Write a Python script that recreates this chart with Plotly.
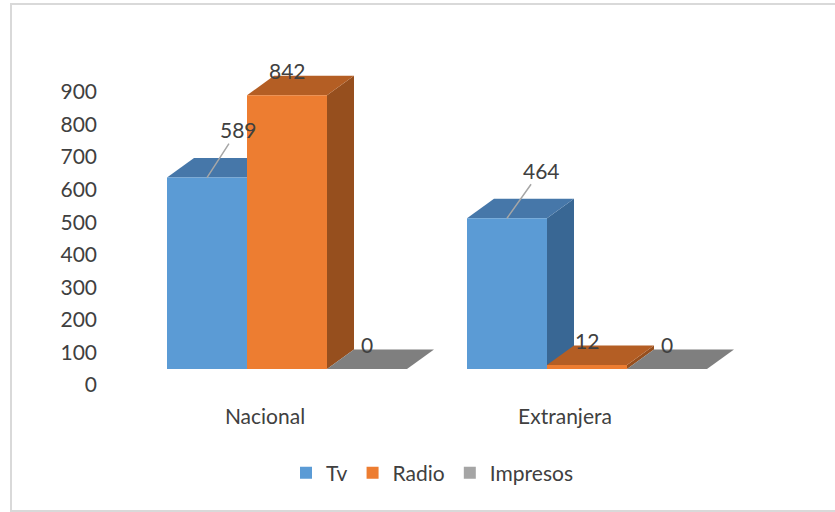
import plotly.graph_objects as go

# datos
categories = ["Nacional", "Extranjera"]
series_names = ["Tv", "Radio", "Impresos"]
tv = [589, 464]
radio = [842, 12]
impresos = [0, 0]
y_ticks = [0, 100, 200, 300, 400, 500, 600, 700, 800, 900]

series_values = [tv, radio, impresos]
front_colors = ["#5B9BD5", "#ED7D31", "#A5A5A5"]
top_colors = ["#4677A9", "#B45E24", "#7F7F7F"]
side_colors = ["#396794", "#964F1E", "#6E6E6E"]

W, H = 835, 512
L, B = 98, 390          # borde izquierdo / inferior del area de trazado (px)
FONT = "Lato, Arial, sans-serif"
TXT = "#404040"

x_pos = list(range(len(categories)))
bar_w = 0.8 / 3
dx, dy = 0.09, 60        # profundidad 3D (unidades de eje)

fig = go.Figure()

for j, (name, vals) in enumerate(zip(series_names, series_values)):
    fig.add_trace(go.Bar(
        x=x_pos, y=vals, name=name,
        marker=dict(color=front_colors[j], line=dict(width=0)),
        hoverinfo="skip",
    ))

# caras superior y lateral
shapes = []
for j, vals in enumerate(series_values):
    for i, v in enumerate(vals):
        c = x_pos[i] + (j - 1) * bar_w
        x0, x1 = c - bar_w / 2, c + bar_w / 2
        side = (f"M{x1},0 L{x1},{v} L{x1+dx},{v+dy} L{x1+dx},{dy} Z")
        top = (f"M{x0},{v} L{x0+dx},{v+dy} L{x1+dx},{v+dy} L{x1},{v} Z")
        shapes.append(dict(type="path", path=side, xref="x", yref="y",
                           fillcolor=side_colors[j], line=dict(width=0), layer="below"))
        shapes.append(dict(type="path", path=top, xref="x", yref="y",
                           fillcolor=top_colors[j], line=dict(width=0), layer="below"))

# borde del grafico (abierto por la derecha)
plot_w = W - L
bx0 = (11 - L) / plot_w
bx1 = (W + 30 - L) / plot_w
by0 = (B - 511) / B
by1 = (B - 4) / B
shapes.append(dict(type="path", xref="paper", yref="paper",
                   path=f"M{bx1},{by1} L{bx0},{by1} L{bx0},{by0} L{bx1},{by0}",
                   line=dict(color="#D9D9D9", width=2), layer="below"))

# etiquetas de datos
annotations = []
leaders = {(0, 0): (31, -48), (0, 1): (34, -48)}
for j, vals in enumerate(series_values):
    for i, v in enumerate(vals):
        c = x_pos[i] + (j - 1) * bar_w
        if (j, i) in leaders:
            ax, ay = leaders[(j, i)]
            annotations.append(dict(x=c, y=v, xref="x", yref="y", text=str(v),
                                    showarrow=True, arrowhead=0, arrowwidth=1.5,
                                    arrowcolor="#A6A6A6", ax=ax, ay=ay,
                                    font=dict(family=FONT, size=21, color=TXT)))
        else:
            annotations.append(dict(x=c, y=v, xref="x", yref="y", text=str(v),
                                    showarrow=False, yshift=25,
                                    font=dict(family=FONT, size=21, color=TXT)))

px_per_unit = 0.325
y_top = 369 / px_per_unit
y_bot = -(B - 369) / px_per_unit
tick_scale = 0.3256
y2_top = 385 / tick_scale
y2_bot = -(B - 385) / tick_scale
x_min = -(287 - L) / 300
x_max = x_min + plot_w / 300

fig.update_layout(
    width=W, height=H,
    margin=dict(l=L, r=0, t=0, b=H - B),
    paper_bgcolor="white", plot_bgcolor="rgba(0,0,0,0)",
    barmode="group", bargap=0.2, bargroupgap=0,
    font=dict(family=FONT, size=21, color=TXT),
    xaxis=dict(range=[x_min, x_max], tickvals=x_pos, ticktext=categories,
               showgrid=False, zeroline=False, showline=False, ticks="",
               ticklabelshift=-22, ticklabelstandoff=12,
               tickfont=dict(family=FONT, size=21, color=TXT)),
    yaxis=dict(range=[y_bot, y_top], visible=False, showgrid=False, zeroline=False),
    yaxis2=dict(range=[y2_bot, y2_top], overlaying="y", side="left", anchor="x",
                tickvals=y_ticks, showgrid=False, zeroline=False, showline=False,
                ticks="", tickfont=dict(family=FONT, size=21, color=TXT)),
    legend=dict(orientation="h", x=(432 - L) / plot_w, xanchor="center",
                y=(B - 473) / B, yanchor="middle",
                font=dict(family=FONT, size=21, color=TXT), itemwidth=30),
    shapes=shapes, annotations=annotations,
    showlegend=True,
)

# eje secundario visible solo para las etiquetas
fig.add_trace(go.Scatter(x=[None], y=[None], yaxis="y2", showlegend=False, hoverinfo="skip"))

fig.write_html("out.html", config={"displayModeBar": False},
               post_script="document.body.style.margin='0';"
                           "document.body.style.overflow='hidden';")
